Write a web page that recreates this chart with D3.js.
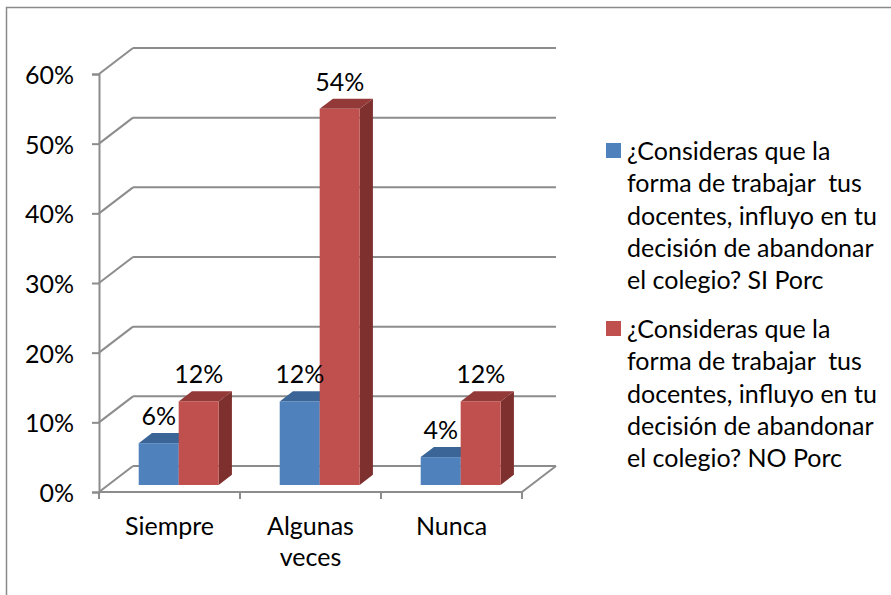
<!DOCTYPE html>
<html>
<head>
<meta charset="utf-8">
<script src="https://cdn.jsdelivr.net/npm/d3@7"></script>
<style>
  html, body { margin: 0; padding: 0; background: #fff; }
  svg { display: block; }
  text { font-family: Lato, "Open Sans", sans-serif; fill: #000; }
</style>
</head>
<body>
<svg id="chart" width="891" height="595"></svg>
<script>
// ---- data ----
const categories = ["Siempre", "Algunas veces", "Nunca"];
const categoryLines = [["Siempre"], ["Algunas", "veces"], ["Nunca"]];
const seriesKeys = ["si", "no"];
const siPorc = [6, 12, 4];
const noPorc = [12, 54, 12];
const yTicks = [0, 10, 20, 30, 40, 50, 60];
const seriesNames = [
  ["¿Consideras que la", "forma de trabajar  tus", "docentes, influyo en tu", "decisión de abandonar", "el colegio? SI Porc"],
  ["¿Consideras que la", "forma de trabajar  tus", "docentes, influyo en tu", "decisión de abandonar", "el colegio? NO Porc"]
];
const colors = {
  si: { front: "#4F81BD", top: "#3B6596", side: "#385D8A" },
  no: { front: "#C0504D", top: "#933A38", side: "#7D302E" }
};

// ---- layout ----
const svg = d3.select("#chart");
const X0 = 99, X1 = 522, Y0 = 492, Y60 = 74;
const DX = 34, DY = -26;           // full depth offset (back wall)
const BF = 0.27, BB = 0.66;        // bar front / back depth fractions
const grid = "#8c8c8c";
const FS = 25;

const x0 = d3.scaleBand().domain(categories).range([X0, X1]).paddingInner(0.433).paddingOuter(0.2165);
const x1 = d3.scaleBand().domain(seriesKeys).range([0, x0.bandwidth()]);
const y = d3.scaleLinear().domain([0, 60]).range([Y0, Y60]);

// frame
svg.append("rect").attr("x", 6.5).attr("y", 7.5).attr("width", 920).attr("height", 620)
  .attr("fill", "none").attr("stroke", "#8a8a8a").attr("stroke-width", 1.5);

// back wall gridlines + left wall diagonals
const g = svg.append("g");
yTicks.forEach(t => {
  g.append("line").attr("x1", X0).attr("y1", y(t)).attr("x2", X0 + DX).attr("y2", y(t) + DY)
    .attr("stroke", grid).attr("stroke-width", 2);
  g.append("line").attr("x1", X0 + DX).attr("y1", y(t) + DY).attr("x2", X1 + DX).attr("y2", y(t) + DY)
    .attr("stroke", grid).attr("stroke-width", 2);
});
// floor front & right edge
g.append("line").attr("x1", X0).attr("y1", Y0).attr("x2", X1).attr("y2", Y0).attr("stroke", grid).attr("stroke-width", 2);
g.append("line").attr("x1", X1).attr("y1", Y0).attr("x2", X1 + DX).attr("y2", Y0 + DY).attr("stroke", grid).attr("stroke-width", 2);

// y axis
const yAxis = d3.axisLeft(y).tickValues(yTicks).tickFormat(d => d + "%").tickSize(7).tickPadding(18);
const ya = svg.append("g").attr("transform", `translate(${X0},0)`).call(yAxis);
ya.select(".domain").attr("stroke", grid).attr("stroke-width", 2);
ya.selectAll(".tick line").attr("stroke", grid).attr("stroke-width", 2);
ya.selectAll(".tick text").attr("font-size", FS).attr("font-family", "Lato, sans-serif").attr("fill", "#000").attr("dy", "0.38em");

// category ticks
const bounds = [X0].concat(categories.map(c => x0(c) + x0.bandwidth() + x0.step() * 0.433 / 2));
bounds.forEach(b => {
  svg.append("line").attr("x1", b).attr("y1", Y0).attr("x2", b).attr("y2", Y0 + 7).attr("stroke", grid).attr("stroke-width", 2);
});
categories.forEach((c, i) => {
  const cx = x0(c) + x0.bandwidth() / 2;
  categoryLines[i].forEach((ln, j) => {
    svg.append("text").attr("x", cx).attr("y", 535 + j * 31).attr("text-anchor", "middle")
      .attr("font-size", FS).text(ln);
  });
});

// bars
const data = [];
categories.forEach((c, i) => {
  data.push({ cat: c, key: "si", v: siPorc[i] });
  data.push({ cat: c, key: "no", v: noPorc[i] });
});
const bars = svg.append("g");
data.forEach(d => {
  const xl = x0(d.cat) + x1(d.key) + DX * BF;
  const xr = xl + x1.bandwidth();
  const yb = y(0) + DY * BF;
  const yt = y(d.v) + DY * BF;
  const ddx = DX * (BB - BF), ddy = DY * (BB - BF);
  const c = colors[d.key];
  bars.append("path").attr("d", `M${xr},${yt}L${xr + ddx},${yt + ddy}L${xr + ddx},${yb + ddy}L${xr},${yb}Z`).attr("fill", c.side);
  bars.append("path").attr("d", `M${xl},${yt}L${xl + ddx},${yt + ddy}L${xr + ddx},${yt + ddy}L${xr},${yt}Z`).attr("fill", c.top);
  bars.append("rect").attr("x", xl).attr("y", yt).attr("width", xr - xl).attr("height", yb - yt).attr("fill", c.front);
});
// value labels
data.forEach(d => {
  const xl = x0(d.cat) + x1(d.key) + DX * BF;
  const yt = y(d.v) + DY * BF;
  svg.append("text").attr("x", xl + x1.bandwidth() / 2).attr("y", yt - 18).attr("text-anchor", "middle")
    .attr("font-size", FS).text(d.v + "%");
});

// legend
const legend = svg.append("g");
const legendTop = [143, 321];
seriesKeys.forEach((k, i) => {
  legend.append("rect").attr("x", 606).attr("y", legendTop[i]).attr("width", 15).attr("height", 15).attr("fill", colors[k].front);
  seriesNames[i].forEach((ln, j) => {
    legend.append("text").attr("x", 627).attr("y", legendTop[i] + 17 + j * 32.3)
      .attr("font-size", FS).style("white-space", "pre").text(ln);
  });
});
</script>
</body>
</html>
